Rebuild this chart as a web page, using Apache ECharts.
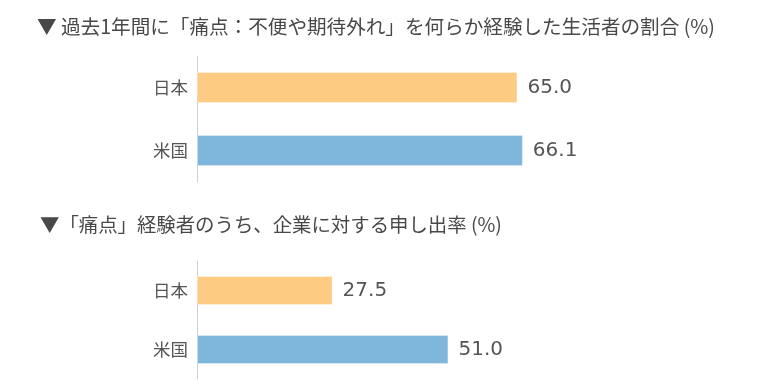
<!DOCTYPE html>
<html><head><meta charset="utf-8">
<script src="https://cdn.jsdelivr.net/npm/echarts@6/dist/echarts.min.js"></script>
<style>html,body{margin:0;padding:0;background:#fff}#c{width:760px;height:389px}</style>
</head><body><div id="c"></div>
<script>
const categories = ['日本', '米国'];
const painRate = [65.0, 66.1];
const complaintRate = [27.5, 51.0];
const title1 = '▼ 過去1年間に「痛点：不便や期待外れ」を何らか経験した生活者の割合 (%)';
const title2 = '▼「痛点」経験者のうち、企業に対する申し出率 (%)';
const colors = ['#FDCB81', '#7FB6DB'];

const font = '"Noto Sans CJK JP", "Noto Sans", sans-serif';
const chart = echarts.init(document.getElementById('c'));
function yAxis(idx) {
  return {
    type: 'category', gridIndex: idx, data: categories, inverse: true,
    axisLine: { lineStyle: { color: '#cfcfcf', width: 1 } },
    axisTick: { length: 3, lineStyle: { color: '#cfcfcf' } },
    axisLabel: { color: '#555', fontSize: 17.5, fontFamily: font, margin: 9 }
  };
}
function xAxis(idx) {
  return { type: 'value', gridIndex: idx, min: 0, max: 100, show: false, splitLine: { show: false } };
}
function series(idx, vals) {
  return {
    type: 'bar', xAxisIndex: idx, yAxisIndex: idx, barWidth: '49%',
    data: vals.map((v, i) => ({ value: v, itemStyle: { color: colors[i] } })),
    itemStyle: { borderColor: 'rgba(255,255,255,0.35)', borderWidth: 1 },
    label: { show: true, position: 'right', distance: 10, color: '#555', fontSize: 20, fontFamily: '"DejaVu Sans", sans-serif', formatter: p => p.value.toFixed(1) },
    animation: false
  };
}
chart.setOption({
  animation: false,
  title: [
    { text: title1, left: 32, top: 12, textStyle: { fontSize: 19.6, fontWeight: 'normal', color: '#484848', fontFamily: font } },
    { text: title2, left: 35, top: 210, textStyle: { fontSize: 19.4, fontWeight: 'normal', color: '#484848', fontFamily: font } }
  ],
  grid: [
    { left: 197, top: 56, width: 493, height: 126 },
    { left: 197, top: 261, width: 493, height: 118 }
  ],
  xAxis: [xAxis(0), xAxis(1)],
  yAxis: [yAxis(0), yAxis(1)],
  series: [series(0, painRate), series(1, complaintRate)]
});
</script></body></html>
